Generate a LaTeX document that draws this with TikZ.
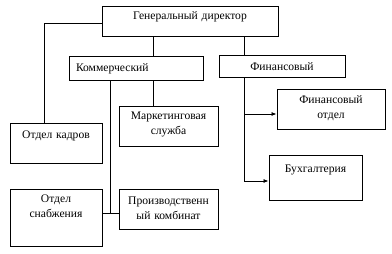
\documentclass[tikz,border=0pt]{standalone}
\usepackage{fontspec}
\setmainfont{Liberation Serif}
\usetikzlibrary{arrows.meta, positioning, calc}
\tikzset{
    unitbox/.style={draw, line width=0.9pt, inner xsep=0pt, inner ysep=0pt, anchor=north, align=center, font=\fontsize{11.6}{15}\selectfont},
    link/.style={line width=0.8pt},
    linkarrow/.style={link, -{Latex[length=5pt, width=4pt]}},
}
\begin{document}
\begin{tikzpicture}[x=1pt, y=-1pt]
    \useasboundingbox (0,0) rectangle (392,254);

    % Top level
    \node[unitbox, text width=176pt, text height=13pt, text depth=17pt] (gendir) at (190,6) {Генеральный директор};

    % Second level
    \node[unitbox, inner xsep=7pt, text width=120pt, align=left, text height=15pt, text depth=9pt] (kommer) at (136,56) {Коммерческий};
    \node[unitbox, text width=126pt, text height=15pt, text depth=7pt] (finans) at (282,55) {Финансовый};

    % Departments
    \node[unitbox, text width=92pt, text height=15pt, text depth=25pt] (kadry) at (56,123) {Отдел кадров};
    \node[unitbox, text width=99pt, text height=13pt, text depth=27pt] (market) at (168.5,106) {Маркетинговая\\служба};
    \node[unitbox, text width=92pt, text height=13pt, text depth=44pt] (snab) at (56,189) {Отдел\\снабжения};
    \node[unitbox, text width=99pt, text height=15pt, text depth=25pt] (proizv) at (168.5,189) {Производственн\\ый комбинат};
    \node[unitbox, text width=108pt, text height=14pt, text depth=26pt] (finotd) at (331,89) {Финансовый\\отдел};
    \node[unitbox, text width=93pt, text height=17pt, text depth=28pt] (buh) at (315.5,155) {Бухгалтерия};

    % Connectors
    \coordinate (kadrline) at (44,23);
    \coordinate (komline) at (153,0);
    \coordinate (prodline) at (110,213);
    \coordinate (finline) at (244,0);
    \coordinate (finarrow) at (244,114);
    \coordinate (buharrow) at (244,181);

    \draw[link] (gendir.west |- kadrline) -- (kadrline) -- (kadry.north -| kadrline);
    \draw[link] (gendir.south -| komline) -- (kommer.north -| komline);
    \draw[link] (kommer.south -| komline) -- (market.north -| komline);
    \draw[link] (kommer.south -| prodline) -- (prodline);
    \draw[link] (snab.east |- prodline) -- (proizv.west |- prodline);
    \draw[link] (gendir.south -| finline) -- (finans.north -| finline);
    \draw[link] (finans.south -| finline) -- (buharrow);
    \draw[linkarrow] (finarrow) -- (finotd.west |- finarrow);
    \draw[linkarrow] (buharrow) -- (buh.west |- buharrow);
\end{tikzpicture}
\end{document}
